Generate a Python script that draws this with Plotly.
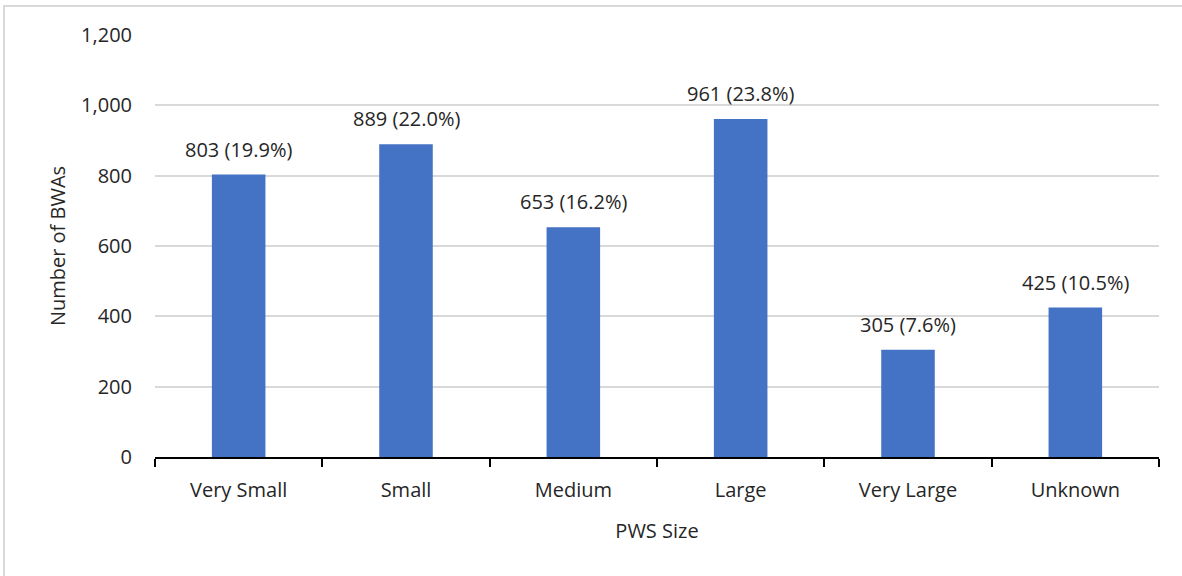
import plotly.graph_objects as go

categories = ["Very Small", "Small", "Medium", "Large", "Very Large", "Unknown"]
counts = [803, 889, 653, 961, 305, 425]
percents = [19.9, 22.0, 16.2, 23.8, 7.6, 10.5]
y_ticks = [0, 200, 400, 600, 800, 1000, 1200]

labels = [f"{c} ({p:.1f}%)" for c, p in zip(counts, percents)]

FONT = "Open Sans"
FS = 20
TXT = "#262626"

fig = go.Figure(go.Bar(
    x=categories, y=counts,
    marker=dict(color="#4472C4", line=dict(width=0)),
))

for c, v, t in zip(categories, counts, labels):
    fig.add_annotation(x=c, y=v, text=t, showarrow=False, yanchor="bottom",
                       yshift=10, font=dict(family=FONT, size=FS, color=TXT))

L, R, T, B = 155, 23, 35, 119
W, H = 1182, 576
pw, ph = W - L - R, H - T - B
base_px = H - B  # pixel row of y=0

fig.update_layout(
    width=W, height=H,
    margin=dict(l=L, r=R, t=T, b=B),
    paper_bgcolor="white", plot_bgcolor="white",
    bargap=0.68, showlegend=False,
    font=dict(family=FONT, size=FS, color=TXT),
    shapes=[dict(type="rect", xref="paper", yref="paper",
                 x0=(4 - L) / pw, x1=(W + 20 - L) / pw,
                 y0=(base_px - (H + 20)) / ph, y1=(base_px - 6) / ph,
                 line=dict(color="#d9d9d9", width=2), layer="below")],
)
fig.update_xaxes(
    type="category", showline=True, linecolor="black", linewidth=2,
    ticks="outside", tickson="boundaries", ticklen=8, tickwidth=2, tickcolor="black",
    ticklabelstandoff=14,
    tickfont=dict(family=FONT, size=FS, color=TXT),
    title=dict(text="PWS Size", font=dict(family=FONT, size=FS, color=TXT), standoff=22),
    showgrid=False,
)
fig.update_yaxes(
    range=[0, 1200], tickvals=y_ticks, ticktext=[f"{v:,}" for v in y_ticks],
    showgrid=True, gridcolor="#d9d9d9", gridwidth=1.5, zeroline=False,
    showline=False, ticks="", ticklabelstandoff=22,
    tickfont=dict(family=FONT, size=FS, color=TXT),
    title=dict(text="Number of BWAs", font=dict(family=FONT, size=FS, color=TXT), standoff=10),
)

fig.write_html("out.html")
